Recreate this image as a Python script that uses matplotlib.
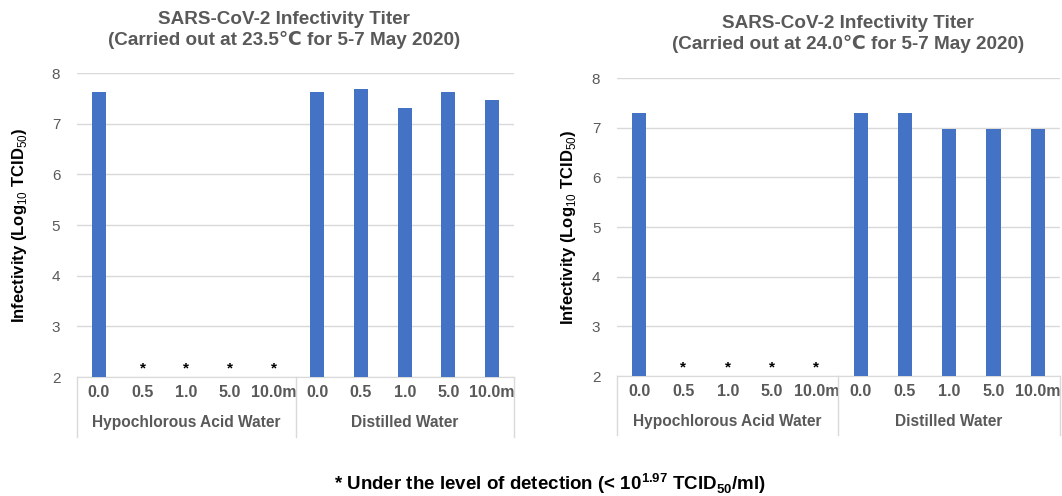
import numpy as np
import matplotlib.pyplot as plt

plt.rcParams['font.family'] = ['Liberation Sans', 'DejaVu Sans']
plt.rcParams['mathtext.fontset'] = 'custom'
plt.rcParams['mathtext.rm'] = 'Liberation Sans'
plt.rcParams['mathtext.bf'] = 'Liberation Sans:bold'

# ---- data ----
times = ["0.0", "0.5", "1.0", "5.0", "10.0m"]
groups = ["Hypochlorous Acid Water", "Distilled Water"]

# None = under the level of detection (marked with *)
hypo_235 = [7.63, None, None, None, None]
dist_235 = [7.63, 7.68, 7.31, 7.63, 7.47]
hypo_240 = [7.30, None, None, None, None]
dist_240 = [7.30, 7.30, 6.97, 6.97, 6.97]

titles = ["SARS-CoV-2 Infectivity Titer\n(Carried out at 23.5\u2103 for 5-7 May 2020)",
          "SARS-CoV-2 Infectivity Titer\n(Carried out at 24.0\u2103 for 5-7 May 2020)"]

BLUE = "#4472C4"
GRAY = "#595959"
LIGHT = "#d9d9d9"

fig = plt.figure(figsize=(10.62, 4.96), dpi=100)
ax1 = fig.add_axes([0.0725, 0.2399, 0.4115, 0.6129])
ax2 = fig.add_axes([0.581, 0.2419, 0.417, 0.6008])


def panel(ax, hypo, dist, title, title_pos, ylab_x):
    vals = hypo + dist
    x = np.arange(len(vals))
    h = [np.nan if v is None else v - 2 for v in vals]
    ax.bar(x, h, bottom=2, width=0.32, color=BLUE, zorder=3)
    for xi, v in zip(x, vals):
        if v is None:
            ax.text(xi, 2.17, "*", ha="center", va="center", fontsize=11,
                    fontweight="bold", color="black")

    ax.set_xlim(-0.5, len(vals) - 0.5)
    ax.set_ylim(2, 8)
    ax.set_yticks(range(2, 9))
    ax.grid(axis="y", color=LIGHT, lw=1, zorder=0)
    for s in ["top", "right", "left"]:
        ax.spines[s].set_visible(False)
    ax.spines["bottom"].set_color(LIGHT)
    ax.tick_params(axis="y", length=0, pad=12, labelsize=11, labelcolor=GRAY)
    ax.set_xticks(x)
    ax.set_xticklabels(times * 2, fontweight="bold")
    ax.tick_params(axis="x", length=0, pad=6, labelsize=11.5, labelcolor=GRAY)

    # category box below the axis
    tr = ax.get_xaxis_transform()
    n = len(times)
    for xv in [-0.5, n - 0.5, 2 * n - 0.5]:
        ax.plot([xv, xv], [0, -0.197], transform=tr, color=LIGHT, lw=1,
                clip_on=False)
    for i, g in enumerate(groups):
        ax.text(i * n + (n - 1) / 2, -0.151, g, transform=tr, ha="center",
                va="center", fontsize=11.2, fontweight="bold", color=GRAY)

    ax.set_ylabel(r"Infectivity (Log$_{10}$ TCID$_{50}$)", fontsize=12,
                  fontweight="bold", color="black")
    ax.yaxis.set_label_coords(ylab_x, 0.5)
    fig.text(title_pos[0], title_pos[1], title, ha="center", va="center",
             fontsize=13.6, fontweight="bold", color=GRAY, linespacing=1.25)


panel(ax1, hypo_235, dist_235, titles[0], (284 / 1062, 1 - 30 / 496), -0.110)
panel(ax2, hypo_240, dist_240, titles[1], (848 / 1062, 1 - 34 / 496), -0.088)

fig.text(0.518, 0.024,
         r"* Under the level of detection (< 10$^{\mathbf{1.97}}$ TCID$_{\mathbf{50}}$/ml)",
         ha="center", va="center", fontsize=13.5, fontweight="bold", color="black")

fig.savefig("out.png", dpi=100)
